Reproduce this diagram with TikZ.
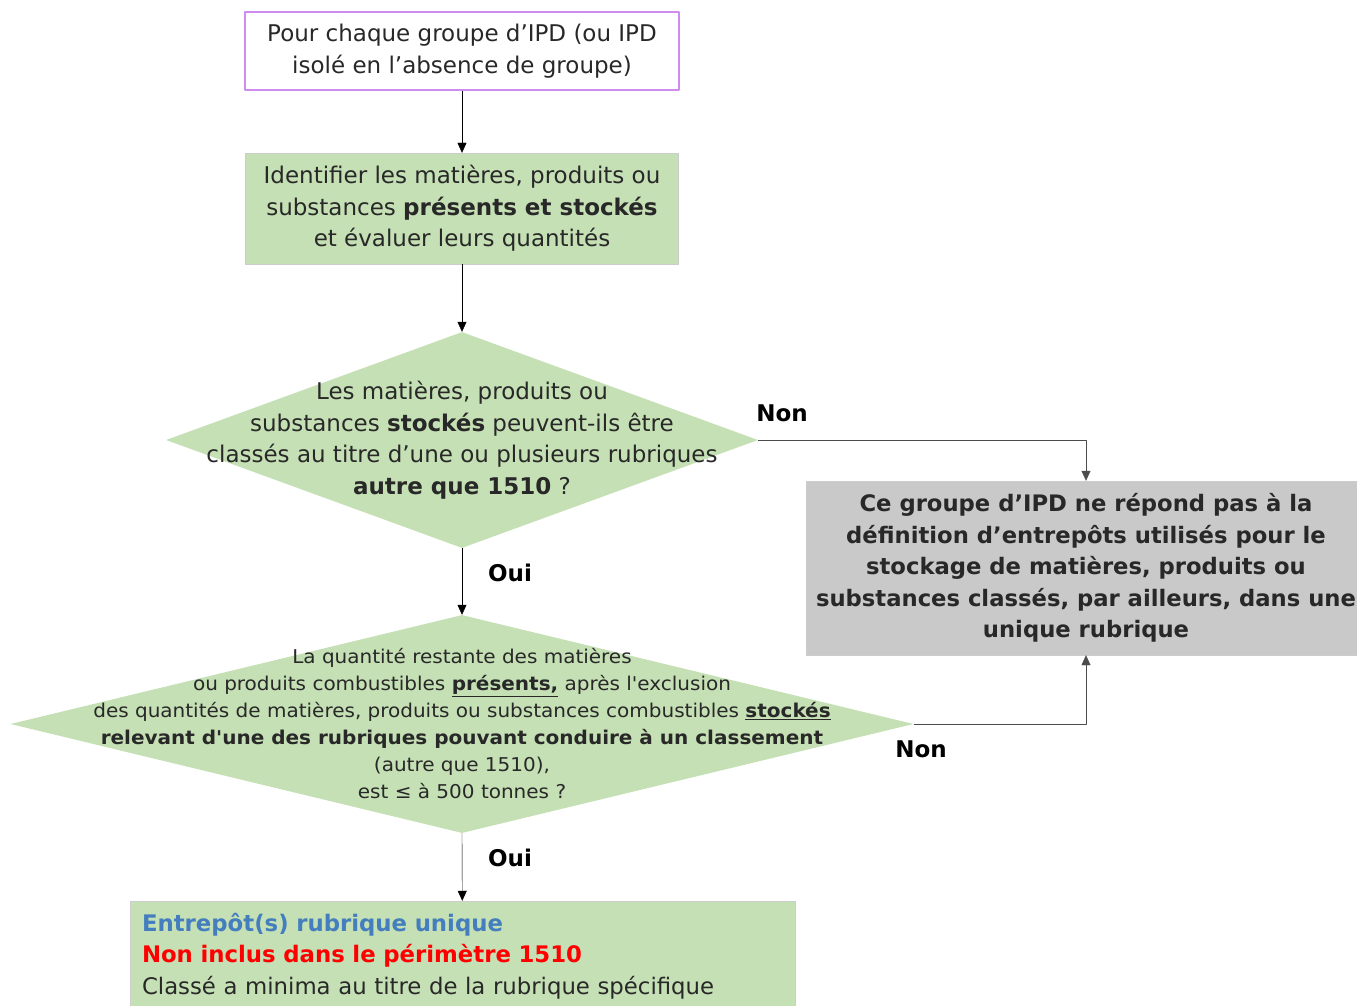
\documentclass[tikz,border=0pt]{standalone}
\usepackage{fontspec}
\setmainfont{DejaVu Sans}
\newfontfamily\condfont[FakeStretch=1.17]{DejaVu Sans Condensed}
\usetikzlibrary{shapes.geometric,arrows.meta}
\definecolor{vertclair}{RGB}{197,224,180}
\definecolor{grisclair}{RGB}{201,201,201}
\definecolor{cadremauve}{RGB}{206,140,240}
\definecolor{bleutitre}{RGB}{68,126,190}
\definecolor{texte}{RGB}{40,40,40}
\begin{document}
\begin{tikzpicture}[x=1pt,y=-1pt,>={Triangle[length=10pt,width=9pt]},line join=round,
	every node/.style={text=texte,inner sep=0pt},
	boite/.style={draw=black!20,fill=vertclair,align=center},
	losange/.style={diamond,draw=none,fill=vertclair,aspect=1},
	etiquette/.style={font=\fontsize{23}{26}\selectfont\bfseries,text=black},
	texteboite/.style={font=\fontsize{23}{31.5}\selectfont}]
\useasboundingbox (0,0) rectangle (1357,1006);
% boites et losanges
	\node[draw=cadremauve,line width=1.3pt,fill=white,align=center,minimum width=434pt,minimum height=78pt,texteboite] (depart) at (462,51)
	 {Pour chaque groupe d'IPD (ou IPD\\isolé en l'absence de groupe)};
	\node[boite,minimum width=433pt,minimum height=111pt,texteboite] (identifier) at (462,208.5)
	 {Identifier les matières, produits ou\\substances \textbf{présents et stockés}\\et évaluer leurs quantités};
	\node[losange,minimum width=592pt,minimum height=216pt] (question1) at (462,440) {};
	\node[align=center,texteboite] (texteq1) at (462,440)
	 {Les matières, produits ou\\substances \textbf{stockés} peuvent-ils être\\classés au titre d'une ou plusieurs rubriques\\\textbf{autre que 1510} ?};
	\node[losange,minimum width=903pt,minimum height=218pt] (question2) at (462,724) {};
	\node[align=center,font=\condfont\fontsize{19}{27}\selectfont] (texteq2) at (462,724)
	 {La quantité restante des matières\\ou produits combustibles \textbf{\underline{présents,}} après l'exclusion\\des quantités de matières, produits ou substances combustibles \textbf{\underline{stockés}}\\\textbf{relevant d'une des rubriques pouvant conduire à un classement}\\(autre que 1510),\\est ≤ à 500 tonnes ?};
	\node[draw=black!20,fill=grisclair,align=center,minimum width=560pt,minimum height=174pt,font=\fontsize{22.7}{31.5}\selectfont\bfseries] (horsdef) at (1086,568)
	 {Ce groupe d'IPD ne répond pas à la\\définition d'entrepôts utilisés pour le\\stockage de matières, produits ou\\substances classés, par ailleurs, dans une\\unique rubrique};
	\node[boite,minimum width=665pt,minimum height=110pt,align=left,text width=641pt,font=\fontsize{22.8}{31.5}\selectfont] (unique) at (462.5,956)
	 {\textcolor{bleutitre}{\bfseries Entrepôt(s) rubrique unique}\\\textcolor{red}{\bfseries Non inclus dans le périmètre 1510}\\Classé a minima au titre de la rubrique spécifique};
% fleches
	\draw[->] (depart)--(identifier);
	\draw[->] (identifier)--(question1.north);
	\draw[->] (question1.south)--(question2.north);
	\draw[->] (question2.south)--(unique);
	\draw[->,black!70] (question1.east)-|(horsdef.north);
	\draw[->,black!70] (question2.east)-|(horsdef.south);
% etiquettes
	\node[etiquette] (non1) at (782,413) {Non};
	\node[etiquette] (oui1) at (510,573) {Oui};
	\node[etiquette] (non2) at (921,749) {Non};
	\node[etiquette] (oui2) at (510,858) {Oui};
\end{tikzpicture}
\end{document}
